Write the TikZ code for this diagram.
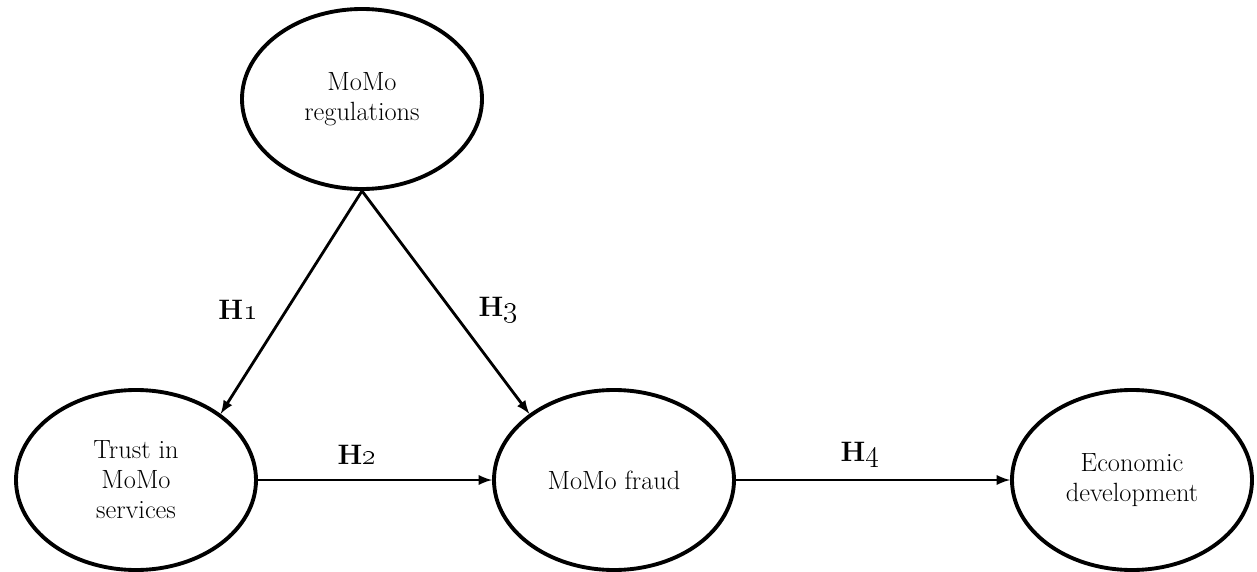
\documentclass[tikz,border=0pt]{standalone}
\usepackage{amsmath}
\usepackage{tikz}
\usetikzlibrary{shapes.geometric}

\begin{document}
\begin{tikzpicture}
    \def \ew {4.8cm} % ellipse width
    \def \eh {3.6cm} % ellipse height
    \tikzset{
      construct/.style={draw, ellipse, line width=2.2pt, minimum width=\ew,
        minimum height=\eh, align=center, inner sep=0pt,
        font=\fontsize{15}{17}\selectfont},
      hyp/.style={->, >=latex, line width=1.6pt},
      hlabel/.style={font=\fontsize{16}{18}\selectfont\bfseries}
    }
    \useasboundingbox (0,0) rectangle (25.14,11.42);
    \node[construct] (reg) at (7.24,9.44) {MoMo\\regulations};
    \node[construct] (trust) at (2.72,1.82) {Trust in\\MoMo\\services};
    \node[construct] (fraud) at (12.28,1.82) {MoMo fraud};
    \node[construct] (econ) at (22.64,1.82) {Economic\\development};
    \draw[hyp] (reg.south) -- (trust.38);
    \draw[hyp] (reg.south) -- (fraud.142);
    \draw[hyp] (trust.east) -- (fraud.west);
    \draw[hyp] (fraud.east) -- (econ.west);
    \node[hlabel] (h1) at (4.76,5.22) {H\oldstylenums{1}};
    \node[hlabel] (h3) at (9.96,5.22) {H\oldstylenums{3}};
    \node[hlabel] (h2) at (7.14,2.32) {H\oldstylenums{2}};
    \node[hlabel] (h4) at (17.2,2.32) {H\oldstylenums{4}};
\end{tikzpicture}
\end{document}
